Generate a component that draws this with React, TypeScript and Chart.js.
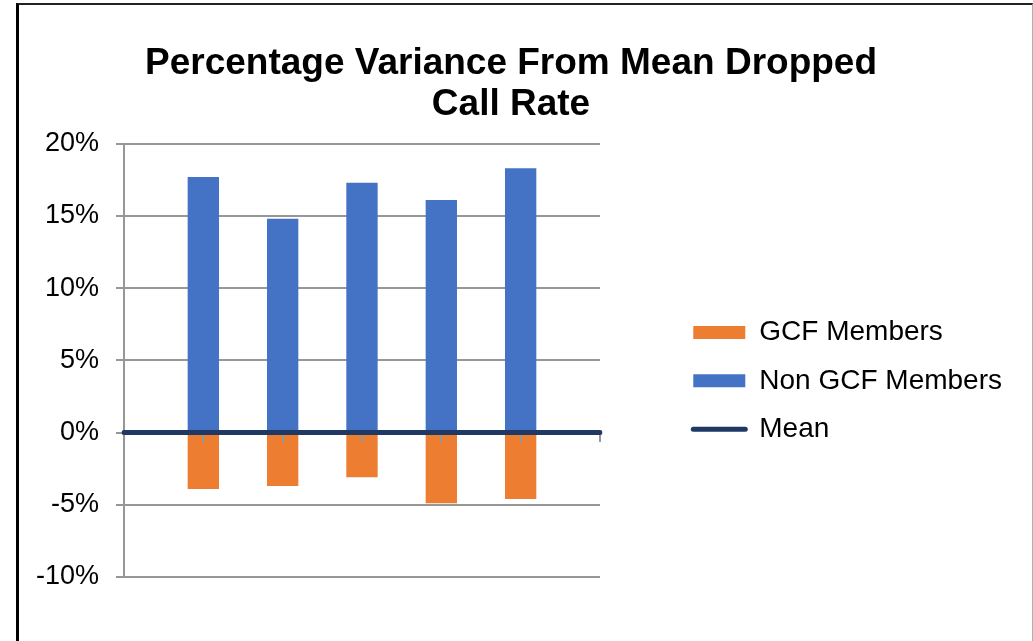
import React, { useEffect, useRef } from "react";
import { Chart, registerables } from "chart.js";

Chart.register(...registerables);

// ---- data ----
const categories = ["", "1", "2", "3", "4", "5", ""];
const gcfMembers = [-3.9, -3.7, -3.1, -4.9, -4.6];
const nonGcfMembers = [17.7, 14.8, 17.3, 16.1, 18.3];
const meanValues = [0, 0, 0, 0, 0, 0, 0];
const seriesNames = ["GCF Members", "Non GCF Members", "Mean"];
const titleLines = ["Percentage Variance From Mean Dropped", "Call Rate"];
const yMin = -10;
const yMax = 20;
const yStep = 5;

const FONT = "'Liberation Sans', Arial, sans-serif";
const ORANGE = "#ED7D31";
const BLUE = "#4472C4";
const NAVY = "#203864";
const GRID = "#979797";

const pad = (arr: number[]) => [null, ...arr, null];

export default function App() {
  const ref = useRef<HTMLCanvasElement | null>(null);

  useEffect(() => {
    if (!ref.current) return;
    const chart = new Chart(ref.current, {
      type: "bar",
      data: {
        labels: categories,
        datasets: [
          {
            type: "bar",
            label: seriesNames[0],
            data: pad(gcfMembers),
            backgroundColor: ORANGE,
            borderWidth: 0,
            stack: "s",
            categoryPercentage: 1,
            barPercentage: 0.395,
            pointStyle: "rect",
          } as any,
          {
            type: "bar",
            label: seriesNames[1],
            data: pad(nonGcfMembers),
            backgroundColor: BLUE,
            borderWidth: 0,
            stack: "s",
            categoryPercentage: 1,
            barPercentage: 0.395,
            pointStyle: "rect",
          } as any,
          {
            type: "line",
            label: seriesNames[2],
            data: meanValues,
            borderColor: NAVY,
            backgroundColor: NAVY,
            borderWidth: 5,
            borderCapStyle: "round",
            pointRadius: 0,
            pointHoverRadius: 0,
            pointStyle: "line",
            order: -1,
          } as any,
        ],
      },
      options: {
        animation: false,
        responsive: false,
        layout: { padding: { left: 10, right: 21, top: 0, bottom: 64 } },
        scales: {
          x: {
            type: "category",
            offset: false,
            stacked: true,
            position: { y: 0 } as any,
            grid: {
              offset: false,
              drawOnChartArea: false,
              drawTicks: true,
              tickLength: 7,
              color: GRID,
              lineWidth: 2,
              z: 1,
            },
            border: { display: true, color: "rgba(0,0,0,0)", width: 5 },
            ticks: { display: false },
          },
          y: {
            stacked: true,
            min: yMin,
            max: yMax,
            ticks: {
              stepSize: yStep,
              callback: (v: any) => v + "%",
              color: "#000",
              font: { size: 27, family: FONT },
              padding: 17,
            },
            grid: { color: GRID, lineWidth: 2, tickLength: 8, drawTicks: true },
            border: { display: true, color: GRID, width: 2 },
            afterFit: (s: any) => {
              s.width = 114;
            },
          },
          yR: {
            type: "linear",
            position: "right",
            display: true,
            grid: { display: false, drawTicks: false },
            border: { display: false },
            ticks: { display: false },
            afterFit: (s: any) => {
              s.width = 73;
            },
          } as any,
        },
        plugins: {
          tooltip: { enabled: false },
          title: {
            display: true,
            text: titleLines,
            color: "#000",
            font: { size: 37, weight: "bold", family: FONT, lineHeight: 1.09 },
            padding: { top: 44, bottom: 19 },
          },
          legend: {
            display: true,
            position: "right",
            fullSize: false,
            maxWidth: 400,
            title: {
              display: true,
              text: " ",
              font: { size: 10, lineHeight: 1 },
              padding: { top: 14, bottom: 17 },
            },
            labels: {
              usePointStyle: true,
              pointStyleWidth: 52,
              boxHeight: 13,
              padding: 20.3,
              color: "#000",
              font: { size: 28, family: FONT },
              generateLabels: (c: any) => {
                const items = Chart.defaults.plugins.legend.labels.generateLabels(c);
                items.forEach((it: any) => {
                  if (it.datasetIndex === 2) {
                    it.pointStyle = "line";
                    it.lineWidth = 5;
                    it.lineCap = "round";
                    it.strokeStyle = NAVY;
                  } else {
                    it.pointStyle = "rect";
                    it.lineWidth = 0;
                  }
                });
                return items.sort((a: any, b: any) => a.datasetIndex - b.datasetIndex);
              },
            },
          },
        },
      } as any,
    });
    return () => chart.destroy();
  }, []);

  return (
    <div style={{ position: "fixed", left: 0, top: 0, width: 1033, height: 641, background: "#fff", overflow: "hidden" }}>
      <div
        style={{
          position: "absolute",
          left: 16,
          top: 3,
          width: 1013,
          height: 700,
          borderLeft: "3px solid #000",
          borderTop: "2px solid #222",
          borderRight: "1px solid #b0b0b0",
          pointerEvents: "none",
        }}
      />
      <canvas ref={ref} width={1033} height={641} style={{ position: "absolute", left: 0, top: 0, display: "block" }} />
    </div>
  );
}
